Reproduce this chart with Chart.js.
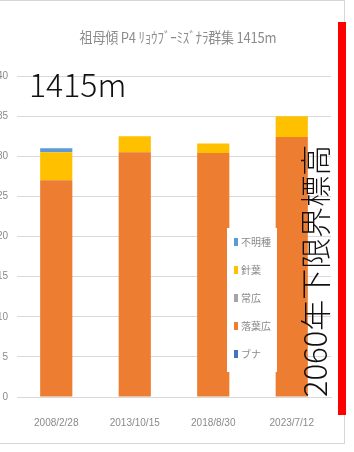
<!DOCTYPE html>
<html lang="ja">
<head>
<meta charset="utf-8">
<script src="https://cdn.jsdelivr.net/npm/chart.js@4.4.1/dist/chart.umd.min.js"></script>
<style>
  html, body { margin: 0; padding: 0; background: #fff; }
  body {
    width: 354px; height: 452px; position: relative; overflow: hidden;
    font-family: "Noto Sans CJK JP", "Noto Sans", sans-serif;
  }
  #frame {
    position: absolute; left: -2px; top: 0; width: 347px; height: 444px;
    border: 1px solid #d6d6d6; box-sizing: border-box;
  }
  #wrap { position: absolute; left: -14px; top: 0; width: 360px; height: 452px; }
  #title {
    position: absolute; left: 0; width: 356px; top: 27px; text-align: center;
    font-size: 13px; color: #8c8c8c; letter-spacing: -0.2px; white-space: nowrap;
    transform: scaleY(1.1);
  }
  #alt {
    position: absolute; left: 29px; top: 63px; font-size: 32px; color: #111;
    line-height: 40px; white-space: nowrap; font-weight: 300;
  }
  #limit {
    position: absolute; left: 314px; top: 271px; font-size: 31px; color: #111;
    white-space: nowrap; line-height: 30px; font-weight: 300;
    transform: translate(-50%, -50%) rotate(-90deg);
  }
  #redbar {
    position: absolute; left: 338px; top: 22px; width: 8px; height: 393px;
    background: #ff0000;
  }
</style>
</head>
<body>
<div id="frame"></div>
<div id="wrap"><canvas id="chart" width="360" height="452"></canvas></div>
<div id="title">祖母傾 P4 ﾘｮｳﾌﾞｰﾐｽﾞﾅﾗ群集 1415m</div>
<div id="alt">1415m</div>
<div id="limit">2060年下限界標高</div>
<div id="redbar"></div>
<script>
"use strict";

// survey dates
const surveyDates = ["2008/2/28", "2013/10/15", "2018/8/30", "2023/7/12"];

// stacked values per group (bottom to top)
const bunaValues = [0, 0, 0, 0];
const rakuyoValues = [27.0, 30.5, 30.4, 32.4];
const jokoValues = [0, 0, 0, 0];
const shinyoValues = [3.5, 2.0, 1.2, 2.6];
const fumeiValues = [0.5, 0, 0, 0];

const seriesNames = ["ブナ", "落葉広", "常広", "針葉", "不明種"];
const seriesColors = ["#4472c4", "#ed7d31", "#a5a5a5", "#ffc000", "#5b9bd5"];

const yTicks = [0, 5, 10, 15, 20, 25, 30, 35, 40];

const allValues = [bunaValues, rakuyoValues, jokoValues, shinyoValues, fumeiValues];

// Legend drawn inside the plot, top entry = top of stack
const insideLegend = {
  id: "insideLegend",
  afterDatasetsDraw(chart) {
    const ctx = chart.ctx;
    const area = chart.chartArea;
    const left = area.left + 210;
    const top = area.top + 152;
    ctx.save();
    ctx.fillStyle = "#ffffff";
    ctx.fillRect(left, top, 50, 144);
    ctx.font = "10px 'Noto Sans CJK JP'";
    ctx.textBaseline = "middle";
    const items = chart.data.datasets.slice().reverse();
    items.forEach((ds, i) => {
      const y = top + 14 + i * 28;
      ctx.fillStyle = ds.backgroundColor;
      ctx.fillRect(left + 7, y - 4, 4, 8);
      ctx.fillStyle = "#8a8a8a";
      ctx.fillText(ds.label, left + 14, y);
    });
    ctx.restore();
  },
};

const chartCtx = document.getElementById("chart").getContext("2d");

new Chart(chartCtx, {
  type: "bar",
  data: {
    labels: surveyDates,
    datasets: seriesNames.map((name, i) => ({
      label: name,
      data: allValues[i],
      backgroundColor: seriesColors[i],
      borderWidth: 0,
      categoryPercentage: 1.0,
      barPercentage: 0.41,
    })),
  },
  options: {
    responsive: false,
    animation: false,
    layout: { padding: { top: 76, right: 15, bottom: 12, left: 0 } },
    plugins: {
      legend: { display: false },
      tooltip: { enabled: false },
    },
    scales: {
      x: {
        stacked: true,
        grid: { display: false, drawTicks: false },
        border: { color: "#d9d9d9" },
        ticks: { color: "#8a8a8a", font: { size: 10 }, padding: 20, maxRotation: 0 },
        afterFit(scale) { scale.height = 43; },
      },
      y: {
        stacked: true,
        min: 0,
        max: 40,
        afterBuildTicks(scale) { scale.ticks = yTicks.map((v) => ({ value: v })); },
        grid: { color: "#d9d9d9", drawTicks: false },
        border: { display: false },
        ticks: { color: "#8a8a8a", font: { size: 10 }, padding: 9 },
        afterFit(scale) { scale.width = 31; },
      },
    },
  },
  plugins: [insideLegend],
});
</script>
</body>
</html>
